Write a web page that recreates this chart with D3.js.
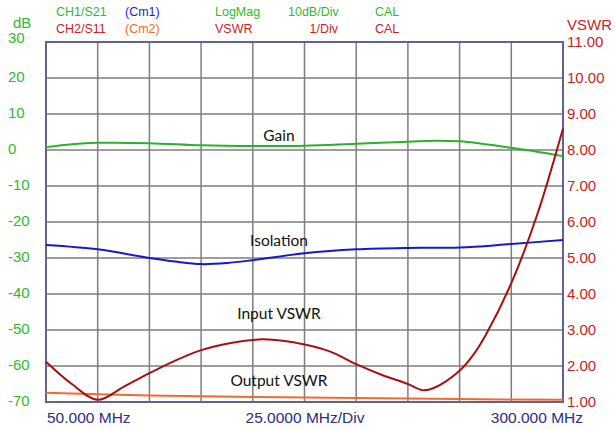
<!DOCTYPE html>
<html>
<head>
<meta charset="utf-8">
<script src="https://cdn.jsdelivr.net/npm/d3@7"></script>
<style>
  body { margin: 0; background: #fff; }
  svg { font-family: Arial, "Liberation Sans", sans-serif; }
</style>
</head>
<body>
<div id="chart"></div>
<script>
var width = 615;
var height = 430;

// frequency points (MHz)
var freqGain = [50, 62.5, 75, 100, 125, 150, 175, 200, 225, 237.5, 250, 275, 300];
var gainDb   = [0.8, 1.6, 2.0, 1.9, 1.3, 1.1, 1.2, 1.75, 2.3, 2.6, 2.4, 0.6, -1.7];

var freqIso  = [50, 75, 100, 112.5, 125, 137.5, 150, 175, 200, 225, 250, 275, 300];
var isoDb    = [-26.4, -27.6, -30.0, -31.0, -31.7, -31.4, -30.6, -28.7, -27.6, -27.2, -27.1, -26.1, -25.0];

var freqIn   = [50, 62.5, 75, 87.5, 100, 112.5, 125, 137.5, 150, 155, 175, 187.5, 200, 212.5, 225, 232, 237.5, 250, 256.25, 262.5, 275, 287.5, 300];
var inVswr   = [2.12, 1.5, 1.06, 1.42, 1.8, 2.15, 2.44, 2.62, 2.72, 2.74, 2.6, 2.4, 2.05, 1.75, 1.5, 1.33, 1.39, 1.87, 2.28, 2.85, 4.3, 6.2, 8.6];

var freqOut  = [50, 100, 150, 200, 250, 300];
var outVswr  = [1.26, 1.18, 1.14, 1.11, 1.08, 1.06];

var dbTicks   = [30, 20, 10, 0, -10, -20, -30, -40, -50, -60, -70];
var vswrTicks = [11, 10, 9, 8, 7, 6, 5, 4, 3, 2, 1];
var freqTicks = d3.range(50, 301, 25);

var green = "#2dbb2d", red = "#c81e1e", darkRed = "#a81010", blue = "#1e1ec8", orange = "#f26a30", navy = "#2c2c86";

var svg = d3.select("#chart").append("svg")
  .attr("width", width)
  .attr("height", height);

var plotLeft = 46, plotRight = 563, plotTop = 42, plotBottom = 402;

var x = d3.scaleLinear().domain([50, 300]).range([plotLeft, plotRight]);
var yDb = d3.scaleLinear().domain([-70, 30]).range([plotBottom, plotTop]);
var yV = d3.scaleLinear().domain([1, 11]).range([plotBottom, plotTop]);

// grid
svg.append("g")
  .selectAll("line")
  .data(freqTicks)
  .enter().append("line")
    .attr("x1", function(d) { return x(d); })
    .attr("x2", function(d) { return x(d); })
    .attr("y1", plotTop).attr("y2", plotBottom)
    .attr("stroke", "#7e7e7e")
    .attr("stroke-width", 1.5);

svg.append("g")
  .selectAll("line")
  .data(dbTicks)
  .enter().append("line")
    .attr("x1", plotLeft).attr("x2", plotRight)
    .attr("y1", function(d) { return yDb(d); })
    .attr("y2", function(d) { return yDb(d); })
    .attr("stroke", "#7e7e7e")
    .attr("stroke-width", 1.5);

// frame
svg.append("rect")
  .attr("x", plotLeft).attr("y", plotTop)
  .attr("width", plotRight - plotLeft).attr("height", plotBottom - plotTop)
  .attr("fill", "none")
  .attr("stroke", "#62628a")
  .attr("stroke-width", 2);

// left axis labels (top one sits a little higher, like the reference)
svg.append("g")
  .selectAll("text")
  .data(dbTicks)
  .enter().append("text")
    .attr("x", 8)
    .attr("y", function(d) { return yDb(d) + (d === 30 ? 1 : 4); })
    .attr("fill", green)
    .attr("font-size", 15)
    .text(function(d) { return d; });

svg.append("text")
  .attr("x", 13).attr("y", 28)
  .attr("fill", green).attr("font-size", 15)
  .text("dB");

// right axis labels
svg.append("g")
  .selectAll("text")
  .data(vswrTicks)
  .enter().append("text")
    .attr("x", 567)
    .attr("y", function(d) { return yV(d) + 5; })
    .attr("fill", red)
    .attr("font-size", 15)
    .text(function(d) { return d3.format(".2f")(d); });

svg.append("text")
  .attr("x", 567).attr("y", 30)
  .attr("fill", red).attr("font-size", 15)
  .text("VSWR");

// header
var header = [
  { t: "CH1/S21", x: 56, y: 16, c: green },
  { t: "CH2/S11", x: 56, y: 33, c: red },
  { t: "(Cm1)", x: 125, y: 16, c: blue },
  { t: "(Cm2)", x: 125, y: 33, c: orange },
  { t: "LogMag", x: 215, y: 16, c: green },
  { t: "VSWR", x: 215, y: 33, c: red },
  { t: "10dB/Div", x: 288, y: 16, c: green },
  { t: "CAL", x: 375, y: 16, c: green },
  { t: "CAL", x: 375, y: 33, c: red }
];
svg.append("g")
  .selectAll("text")
  .data(header)
  .enter().append("text")
    .attr("x", function(d) { return d.x; })
    .attr("y", function(d) { return d.y; })
    .attr("fill", function(d) { return d.c; })
    .attr("font-size", 12.5)
    .text(function(d) { return d.t; });

svg.append("text")
  .attr("x", 338).attr("y", 33)
  .attr("text-anchor", "end")
  .attr("fill", red).attr("font-size", 12.5)
  .text("1/Div");

// bottom labels
svg.append("text").attr("x", 47).attr("y", 423)
  .attr("fill", navy).attr("font-size", 15.5).text("50.000 MHz");
svg.append("text").attr("x", 305).attr("y", 423).attr("text-anchor", "middle")
  .attr("fill", navy).attr("font-size", 15.5).text("25.0000 MHz/Div");
svg.append("text").attr("x", 583).attr("y", 423).attr("text-anchor", "end")
  .attr("fill", navy).attr("font-size", 15.5).text("300.000 MHz");

// traces
function trace(fs, vs, yScale, color) {
  var line = d3.line()
    .x(function(d, i) { return x(fs[i]); })
    .y(function(d) { return yScale(d); })
    .curve(d3.curveCatmullRom.alpha(0.5));
  svg.append("path")
    .attr("d", line(vs))
    .attr("fill", "none")
    .attr("stroke", color)
    .attr("stroke-width", 2);
}

trace(freqOut, outVswr, yV, orange);
trace(freqGain, gainDb, yDb, "#28b428");
trace(freqIso, isoDb, yDb, "#1818c8");
trace(freqIn, inVswr, yV, darkRed);

// trace labels
var labels = [
  { t: "Gain", y: 141 },
  { t: "Isolation", y: 246 },
  { t: "Input VSWR", y: 319 },
  { t: "Output VSWR", y: 386 }
];
svg.append("g")
  .selectAll("text")
  .data(labels)
  .enter().append("text")
    .attr("x", 279)
    .attr("y", function(d) { return d.y; })
    .attr("text-anchor", "middle")
    .attr("font-family", "Lato, 'Open Sans', sans-serif")
    .attr("font-size", 15.5)
    .attr("fill", "#111")
    .text(function(d) { return d.t; });
</script>
</body>
</html>
